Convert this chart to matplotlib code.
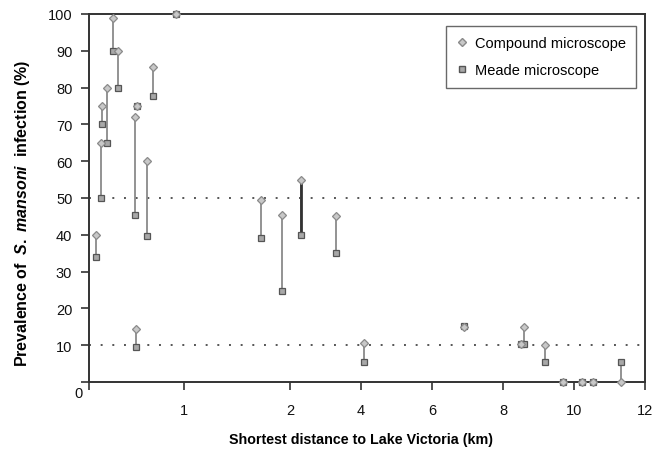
import numpy as np
import matplotlib
matplotlib.use("Agg")
import matplotlib.pyplot as plt
from matplotlib.lines import Line2D

# ---- data ----
distance_km = [0.07, 0.13, 0.14, 0.19, 0.25, 0.31, 0.48, 0.51, 0.49, 0.61, 0.67, 0.92,
               1.73, 1.92, 2.31, 3.30, 4.08, 6.90, 8.51, 8.59, 9.18, 9.70, 10.23, 10.54, 11.32]
compound = [40, 65, 75, 80, 99, 90, 72, 75, 14.5, 60, 85.5, 100,
            49.5, 45.5, 55, 45, 10.5, 15, 10.3, 15, 10, 0, 0, 0, 0]
meade = [34, 50, 70, 65, 90, 80, 45.5, 75, 9.5, 39.7, 77.7, 100,
         39, 24.7, 40, 35, 5.3, 15.2, 10.2, 10.2, 5.3, 0, 0, 0, 5.3]
x_ticks = [0, 1, 2, 4, 6, 8, 10, 12]
y_ticks = [0, 10, 20, 30, 40, 50, 60, 70, 80, 90, 100]
ref_levels = [50, 10]
dark_idx = 14

# piecewise axis as in the original figure
knots = [0, 1, 2, 12]
knot_pos = [0, 95, 201, 556]
def fwd(x):
    return np.interp(x, knots, knot_pos)
def inv(p):
    return np.interp(p, knot_pos, knots)

plt.rcParams['font.family'] = ['Liberation Sans', 'DejaVu Sans']
plt.rcParams['mathtext.fontset'] = 'custom'
plt.rcParams['mathtext.it'] = 'Liberation Sans:italic:bold'
plt.rcParams['mathtext.rm'] = 'Liberation Sans:bold'

fig = plt.figure(figsize=(6.65, 4.6), dpi=100)
ax = fig.add_axes([89/665, 1-383/460, (645-89)/665, (383-15)/460])
ax.set_xscale('function', functions=(fwd, inv))
ax.set_xlim(0, 12)
ax.set_ylim(0, 100)

for lv in ref_levels:
    ax.axhline(lv, color='#555555', lw=1.4, ls=(0, (1, 5)), zorder=1)

d = np.array(distance_km); c = np.array(compound); m = np.array(meade)
ax.vlines(d, m, c, color='#8a8a8a', lw=1.3, zorder=2)
ax.vlines(d[dark_idx], m[dark_idx], c[dark_idx], color='#333333', lw=2.0, zorder=2)
ax.plot(d, m, ls='none', marker='s', ms=5, mfc='#a8a8a8', mec='#555555', mew=0.9,
        zorder=3, clip_on=False)
ax.plot(d, c, ls='none', marker='D', ms=4, mfc='#c8c8c8', mec='#8a8a8a', mew=0.9,
        zorder=4, clip_on=False)

for s in ax.spines.values():
    s.set_color('#333333')
    s.set_linewidth(1.4)

ax.set_xticks(x_ticks)
ax.set_xticklabels([''] + [str(t) for t in x_ticks[1:]])
ax.set_yticks(y_ticks)
ax.set_yticklabels([''] + [str(t) for t in y_ticks[1:]])
ax.tick_params(axis='both', direction='out', length=6, width=1.2, color='#333333',
               labelsize=10.5, labelcolor='#111111')
ax.tick_params(axis='x', pad=9)
ax.tick_params(axis='y', pad=6)
ax.text(-0.012, -0.01, '0', transform=ax.transAxes, ha='right', va='top',
        fontsize=10.5, color='#111111')

ax.set_xlabel('Shortest distance to Lake Victoria (km)', fontsize=10.3, fontweight='bold')
ax.xaxis.set_label_coords(0.49, -0.155)
ax.xaxis.label.set_va('center')
ax.set_ylabel(r'Prevalence of  $S.\ mansoni$  infection (%)', fontsize=11.5, fontweight='bold')
ax.yaxis.set_label_coords(-0.12, 0.46)
ax.yaxis.label.set_va('center')

handles = [Line2D([], [], ls='none', marker='D', ms=4, mfc='#c8c8c8', mec='#8a8a8a'),
           Line2D([], [], ls='none', marker='s', ms=5, mfc='#a8a8a8', mec='#555555')]
leg = ax.legend(handles, ['Compound microscope', 'Meade microscope'], loc='upper right',
                bbox_to_anchor=(0.984, 0.967), fontsize=10.5, frameon=True, fancybox=False,
                edgecolor='#444444', handlelength=0.8, handletextpad=0.5,
                labelspacing=0.9, borderpad=0.7, borderaxespad=0)
leg.get_frame().set_linewidth(1.0)

fig.savefig('out.png', dpi=100)
